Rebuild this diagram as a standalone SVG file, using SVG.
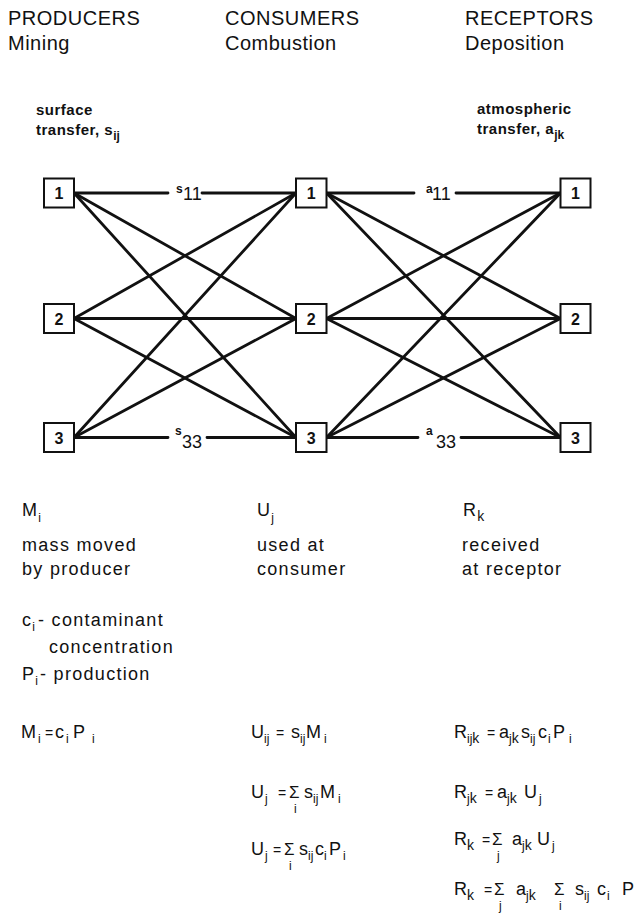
<svg xmlns="http://www.w3.org/2000/svg" width="639" height="918" viewBox="0 0 639 918">
<style>
text{font-family:"Liberation Sans",Arial,Helvetica,sans-serif;fill:#111}
.h{font-size:20px;letter-spacing:0.5px}
.sm{font-size:15px;font-weight:bold;letter-spacing:0.5px}
.b{font-size:18px;letter-spacing:1.3px}
.f{font-size:18px}
.s{font-size:12px;letter-spacing:0}
.k{font-size:14px;letter-spacing:0}
.eq{font-size:14px}
.sig{font-size:17px}
.sup{font-size:12px;font-weight:bold}
.num{font-size:16px;font-weight:bold;text-anchor:middle}
.box{fill:#fff;stroke:#111;stroke-width:2}
#connectors line,#connectors path{stroke:#111;stroke-width:2.8;fill:none;stroke-linecap:round}
</style>
<rect width="639" height="918" fill="#fff"/>

<g id="headers">
<text class="h" x="8" y="25">PRODUCERS</text>
<text class="h" x="8" y="50">Mining</text>
<text class="h" x="225" y="25">CONSUMERS</text>
<text class="h" x="225" y="50">Combustion</text>
<text class="h" x="465" y="25">RECEPTORS</text>
<text class="h" x="465" y="50">Deposition</text>
</g>

<g id="transfer-notes">
<text class="sm" x="36" y="115">surface</text>
<text class="sm" x="36" y="135">transfer, s<tspan class="s" dy="5">ij</tspan></text>
<text class="sm" x="477" y="114">atmospheric</text>
<text class="sm" x="477" y="134">transfer, a<tspan class="s" dy="5">jk</tspan></text>
</g>

<g id="connectors">
<path d="M74 193 L168 193 M202 193 L296 193"/>
<line x1="74" y1="193" x2="296" y2="318.5"/>
<line x1="74" y1="193" x2="296" y2="437.5"/>
<line x1="74" y1="318.5" x2="296" y2="193"/>
<line x1="74" y1="318.5" x2="296" y2="318.5"/>
<line x1="74" y1="318.5" x2="296" y2="437.5"/>
<line x1="74" y1="437.5" x2="296" y2="193"/>
<line x1="74" y1="437.5" x2="296" y2="318.5"/>
<path d="M74 437.5 L168 437.5 M207 437.5 L296 437.5"/>
<path d="M326.5 193 L414 193 M456 193 L560.5 193"/>
<line x1="326.5" y1="193" x2="560.5" y2="318.5"/>
<line x1="326.5" y1="193" x2="560.5" y2="437.5"/>
<line x1="326.5" y1="318.5" x2="560.5" y2="193"/>
<line x1="326.5" y1="318.5" x2="560.5" y2="318.5"/>
<line x1="326.5" y1="318.5" x2="560.5" y2="437.5"/>
<line x1="326.5" y1="437.5" x2="560.5" y2="193"/>
<line x1="326.5" y1="437.5" x2="560.5" y2="318.5"/>
<path d="M326.5 437.5 L418 437.5 M461 437.5 L560.5 437.5"/>
</g>

<g id="edge-labels">
<text class="sup" x="176" y="193">s</text><text class="f" x="183" y="200">11</text>
<text class="sup" x="426" y="193">a</text><text class="f" x="432" y="200">11</text>
<text class="sup" x="175" y="435">s</text><text class="f" x="182" y="448">33</text>
<text class="sup" x="426" y="435">a</text><text class="f" x="436" y="448">33</text>
</g>

<g id="producer-1"><rect class="box" x="44" y="178.5" width="30" height="29"/><text class="num" x="59" y="199">1</text></g>
<g id="producer-2"><rect class="box" x="44" y="304" width="30" height="29"/><text class="num" x="59" y="324.5">2</text></g>
<g id="producer-3"><rect class="box" x="44" y="423" width="30" height="29"/><text class="num" x="59" y="443.5">3</text></g>
<g id="consumer-1"><rect class="box" x="296" y="178.5" width="30.5" height="29"/><text class="num" x="311.3" y="199">1</text></g>
<g id="consumer-2"><rect class="box" x="296" y="304" width="30.5" height="29"/><text class="num" x="311.3" y="324.5">2</text></g>
<g id="consumer-3"><rect class="box" x="296" y="423" width="30.5" height="29"/><text class="num" x="311.3" y="443.5">3</text></g>
<g id="receptor-1"><rect class="box" x="560.5" y="178.5" width="30" height="29"/><text class="num" x="575.5" y="199">1</text></g>
<g id="receptor-2"><rect class="box" x="560.5" y="304" width="30" height="29"/><text class="num" x="575.5" y="324.5">2</text></g>
<g id="receptor-3"><rect class="box" x="560.5" y="423" width="30" height="29"/><text class="num" x="575.5" y="443.5">3</text></g>

<g id="producer-notes">
<text class="b" x="22" y="516">M<tspan class="s" dy="6">i</tspan></text>
<text class="b" x="22" y="551">mass moved</text>
<text class="b" x="22" y="575">by producer</text>
<text class="b" x="22" y="626">c<tspan class="s" dy="5">i</tspan><tspan x="38" dy="-5">- contaminant</tspan></text>
<text class="b" x="49" y="653">concentration</text>
<text class="b" x="22" y="680">P<tspan class="s" dy="5">i</tspan><tspan x="40" dy="-5">- production</tspan></text>
<text class="b" x="21" y="738">M<tspan class="s" x="38" dy="5">i</tspan><tspan class="eq" x="45" dy="-5">=</tspan><tspan x="55">c</tspan><tspan class="s" x="66" dy="5">i</tspan><tspan x="73" dy="-5">P</tspan><tspan class="s" x="92" dy="5">i</tspan></text>
</g>

<g id="consumer-notes">
<text class="b" x="257" y="516">U<tspan class="s" dy="6">j</tspan></text>
<text class="b" x="257" y="551">used at</text>
<text class="b" x="257" y="575">consumer</text>
<text class="f" x="251" y="738">U<tspan class="s" x="264" dy="5">ij</tspan><tspan class="eq" x="276" dy="-5">=</tspan><tspan x="291">s</tspan><tspan class="s" x="300" dy="5">ij</tspan><tspan x="306" dy="-5">M</tspan><tspan class="s" x="324" dy="5">i</tspan></text>
<text class="f" x="251" y="798">U<tspan class="s" x="265" dy="5">j</tspan><tspan class="eq" x="278" dy="-5">=</tspan><tspan class="sig" x="289">Σ</tspan><tspan class="s" x="294" dy="15">i</tspan><tspan x="304" dy="-15">s</tspan><tspan class="s" x="313" dy="5">ij</tspan><tspan x="320" dy="-5">M</tspan><tspan class="s" x="338" dy="5">i</tspan></text>
<text class="f" x="251" y="855">U<tspan class="s" x="265" dy="5">j</tspan><tspan class="eq" x="273" dy="-5">=</tspan><tspan class="sig" x="284">Σ</tspan><tspan class="s" x="289" dy="15">i</tspan><tspan x="299" dy="-15">s</tspan><tspan class="s" x="308" dy="5">ij</tspan><tspan x="315" dy="-5">c</tspan><tspan class="s" x="324" dy="5">i</tspan><tspan x="329" dy="-5">P</tspan><tspan class="s" x="343" dy="5">i</tspan></text>
</g>

<g id="receptor-notes">
<text class="b" x="463" y="516">R<tspan class="k" dy="5">k</tspan></text>
<text class="b" x="462" y="551">received</text>
<text class="b" x="462" y="575">at receptor</text>
<text class="f" x="454" y="738">R<tspan class="s" x="467" dy="5">ij</tspan><tspan class="k">k</tspan><tspan class="eq" x="487" dy="-5">=</tspan><tspan x="499">a</tspan><tspan class="s" x="509" dy="5">j</tspan><tspan class="k">k</tspan><tspan x="521" dy="-5">s</tspan><tspan class="s" x="530" dy="5">ij</tspan><tspan x="538" dy="-5">c</tspan><tspan class="s" x="548" dy="5">i</tspan><tspan x="553" dy="-5">P</tspan><tspan class="s" x="569" dy="5">i</tspan></text>
<text class="f" x="454" y="798">R<tspan class="s" x="467" dy="5">j</tspan><tspan class="k">k</tspan><tspan class="eq" x="485" dy="-5">=</tspan><tspan x="497">a</tspan><tspan class="s" x="507" dy="5">j</tspan><tspan class="k">k</tspan><tspan x="524" dy="-5">U</tspan><tspan class="s" x="539" dy="5">j</tspan></text>
<text class="f" x="454" y="845">R<tspan class="k" x="467" dy="5">k</tspan><tspan class="eq" x="482" dy="-5">=</tspan><tspan class="sig" x="492">Σ</tspan><tspan class="s" x="497" dy="15">j</tspan><tspan x="512" dy="-15">a</tspan><tspan class="s" x="522" dy="5">j</tspan><tspan class="k">k</tspan><tspan x="537" dy="-5">U</tspan><tspan class="s" x="552" dy="5">j</tspan></text>
<text class="f" x="454" y="895">R<tspan class="k" x="467" dy="5">k</tspan><tspan class="eq" x="484" dy="-5">=</tspan><tspan class="sig" x="494">Σ</tspan><tspan class="s" x="499" dy="15">j</tspan><tspan x="516" dy="-15">a</tspan><tspan class="s" x="526" dy="5">j</tspan><tspan class="k">k</tspan><tspan class="sig" x="554" dy="-5">Σ</tspan><tspan class="s" x="559" dy="15">i</tspan><tspan x="575" dy="-15">s</tspan><tspan class="s" x="584" dy="5">ij</tspan><tspan x="597" dy="-5">c</tspan><tspan class="s" x="607" dy="5">i</tspan><tspan x="622" dy="-5">P</tspan></text>
</g>
</svg>
